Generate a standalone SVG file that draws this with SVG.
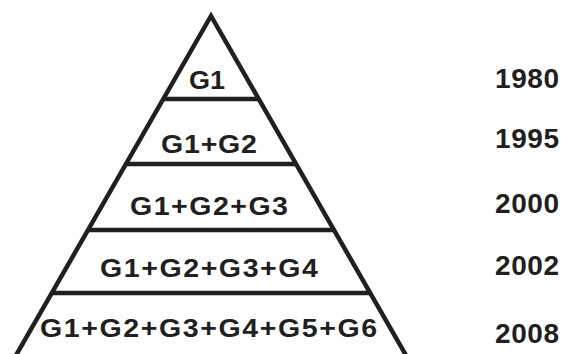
<svg xmlns="http://www.w3.org/2000/svg" width="562" height="354" viewBox="0 0 562 354">
<style>
.edge{fill:none;stroke:#231f20;stroke-width:4.5;stroke-linejoin:miter;stroke-miterlimit:10}
.lbl{font-family:"Liberation Sans",Arial,sans-serif;font-weight:bold;font-size:25.5px;fill:#231f20;text-anchor:middle}
.yr{font-family:"Liberation Sans",Arial,sans-serif;font-weight:bold;font-size:28px;fill:#231f20}
</style>
<rect width="562" height="354" fill="#ffffff"/>
<g id="connectors">
<path class="edge" d="M 11 364 L 211 16 L 411 364"/>
<line class="edge" x1="163.5" y1="99" x2="258.5" y2="99"/>
<line class="edge" x1="126.3" y1="164" x2="295.7" y2="164"/>
<line class="edge" x1="88.6" y1="230" x2="333.4" y2="230"/>
<line class="edge" x1="52.6" y1="293" x2="369.4" y2="293"/>
</g>
<g id="level1"><text class="lbl" transform="translate(207,89) scale(1.06,1)" x="0" y="0">G1</text></g>
<g id="level2"><text class="lbl" transform="translate(209,153) scale(1.12,1)" x="0" y="0" textLength="85.7" lengthAdjust="spacing">G1+G2</text></g>
<g id="level3"><text class="lbl" transform="translate(209,215) scale(1.12,1)" x="0" y="0" textLength="141" lengthAdjust="spacing">G1+G2+G3</text></g>
<g id="level4"><text class="lbl" transform="translate(209,277) scale(1.12,1)" x="0" y="0" textLength="194.6" lengthAdjust="spacing">G1+G2+G3+G4</text></g>
<g id="level5"><text class="lbl" transform="translate(208.5,337) scale(1.12,1)" x="0" y="0" textLength="301" lengthAdjust="spacing">G1+G2+G3+G4+G5+G6</text></g>
<g id="years">
<text class="yr" x="495" y="88" textLength="64" lengthAdjust="spacing">1980</text>
<text class="yr" x="495" y="148" textLength="64" lengthAdjust="spacing">1995</text>
<text class="yr" x="495" y="213" textLength="64" lengthAdjust="spacing">2000</text>
<text class="yr" x="495" y="275" textLength="64" lengthAdjust="spacing">2002</text>
<text class="yr" x="495" y="343" textLength="64" lengthAdjust="spacing">2008</text>
</g>
</svg>
